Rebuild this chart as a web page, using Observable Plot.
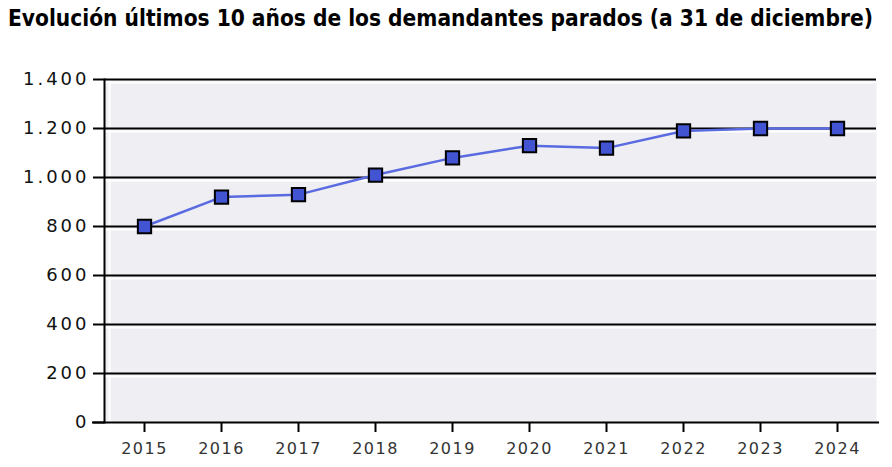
<!DOCTYPE html>
<html>
<head>
<meta charset="utf-8">
<script src="https://cdn.jsdelivr.net/npm/d3@7"></script>
<script src="https://cdn.jsdelivr.net/npm/@observablehq/plot@0.6"></script>
<style>
  html, body { margin: 0; padding: 0; background: #fff; }
  #wrap { width: 892px; height: 467px; position: relative; }
  #title { height: 50px; box-sizing: border-box; padding-top: 5px; padding-left: 8px;
    font-family: "DejaVu Sans Condensed", "DejaVu Sans", sans-serif; font-weight: bold;
    font-stretch: condensed; font-size: 22.5px; color: #000; white-space: nowrap; }
  svg { display: block; }
  g[aria-label="y-axis tick label"] text { letter-spacing: 3px; }
  g[aria-label="x-axis tick label"] text { letter-spacing: 1.5px; }
</style>
</head>
<body>
<div id="wrap">
  <div id="title">Evolución últimos 10 años de los demandantes parados (a 31 de diciembre)</div>
  <div id="chart"></div>
</div>
<script>
const years = ["2015","2016","2017","2018","2019","2020","2021","2022","2023","2024"];
const parados = [800, 920, 930, 1010, 1080, 1130, 1120, 1190, 1200, 1200];
const yTicks = [0, 200, 400, 600, 800, 1000, 1200, 1400];

const data = years.map((y, i) => ({year: y, value: parados[i]}));
const esFormat = d3.formatLocale({decimal: ",", thousands: ".", grouping: [3], currency: ["", " €"]}).format(",d");

const chart = Plot.plot({
  width: 892,
  height: 417,
  marginTop: 29,
  marginBottom: 45,
  marginLeft: 104,
  marginRight: 16,
  style: {background: "#fff", overflow: "visible"},
  x: {type: "point", domain: years, padding: 0.5, label: null},
  y: {domain: [0, 1400], label: null},
  marks: [
    Plot.frame({fill: "#eeeef3", stroke: null}),
    Plot.ruleY(yTicks.filter(d => d > 0), {stroke: "#fff", strokeWidth: 2, dy: 3}),
    Plot.ruleX([years[0]], {stroke: "#fff", strokeWidth: 2, dx: -35, y1: 0, y2: 1400}),
    Plot.ruleY(yTicks.filter(d => d > 0), {stroke: "#000", strokeWidth: 2}),
    Plot.frame({anchor: "left", stroke: "#000", strokeWidth: 2}),
    Plot.ruleY([0], {stroke: "#000", strokeWidth: 2, insetLeft: -12, insetRight: -3}),
    Plot.axisY({ticks: yTicks, tickFormat: esFormat, tickSize: 11, tickPadding: 4, fontSize: 18,
      fill: "#111", stroke: "#000", strokeWidth: 2, fontFamily: "DejaVu Sans"}),
    Plot.axisX({tickSize: 10, tickPadding: 10, fontSize: 16, fill: "#333", stroke: "#000", strokeWidth: 2,
      fontFamily: "DejaVu Sans"}),
    Plot.line(data, {x: "year", y: "value", stroke: "#5a6ae0", strokeWidth: 2.5}),
    Plot.dot(data, {x: "year", y: "value", symbol: "square", r: 7.5, fill: "#4254d2", stroke: "#000", strokeWidth: 2}),
  ]
});

document.getElementById("chart").appendChild(chart);
</script>
</body>
</html>
